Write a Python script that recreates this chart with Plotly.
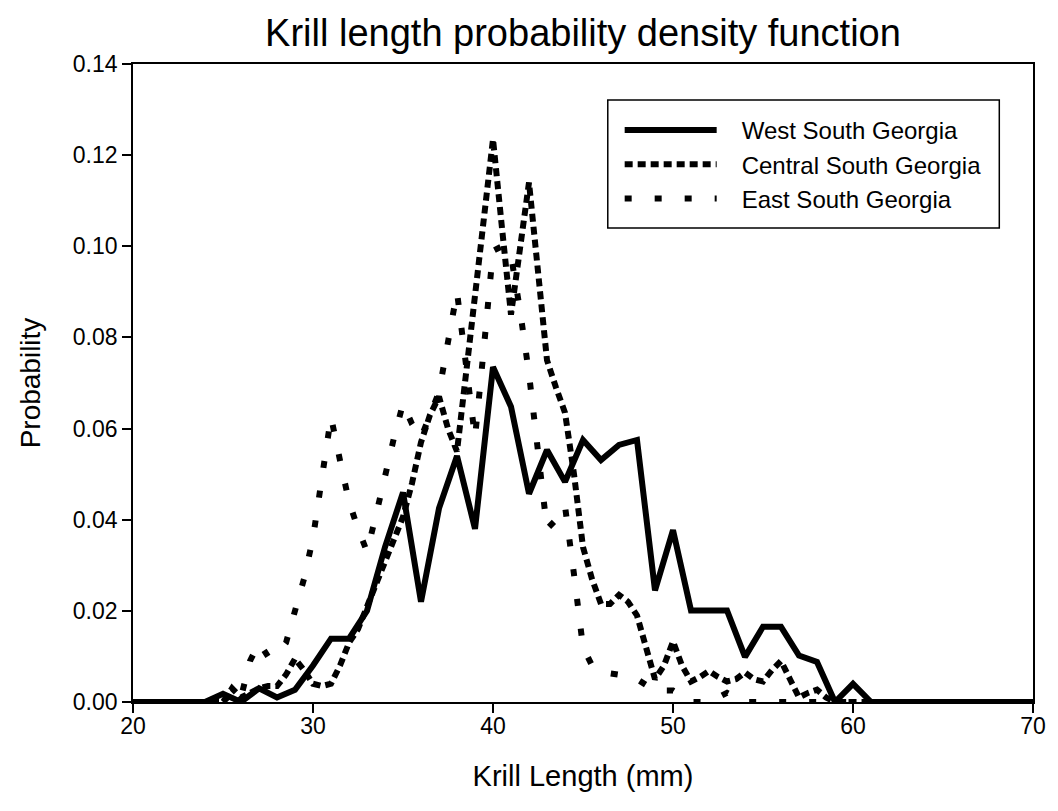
import plotly.graph_objects as go

# ---- data ----
west_x = [20, 21, 22, 23, 24, 25, 26, 27, 28, 29, 30, 31, 32, 33, 34, 35, 36, 37, 38, 39,
          40, 41, 42, 43, 44, 45, 46, 47, 48, 49, 50, 51, 52, 53, 54, 55, 56, 57, 58, 59,
          60, 61, 62, 63, 64, 65, 66, 67, 68, 69, 70]
west_y = [0, 0, 0, 0, 0, 0.0018, 0, 0.003, 0.001, 0.0027, 0.008, 0.0139, 0.0139, 0.020, 0.034,
          0.046, 0.022, 0.0425, 0.054, 0.038, 0.0735, 0.0648, 0.0457, 0.0553, 0.0483, 0.0575,
          0.0531, 0.0564, 0.0575, 0.0245, 0.0377, 0.0201, 0.0201, 0.0201, 0.0099, 0.0165,
          0.0165, 0.0102, 0.0088, 0, 0.004, 0, 0, 0, 0, 0, 0, 0, 0, 0, 0]

central_x = [20, 21, 22, 23, 24, 25, 25.5, 26, 26.5, 27, 27.5, 28, 28.5, 29, 29.5, 30, 30.5,
             31, 31.5, 32, 32.5, 33, 33.5, 34, 34.5, 35, 35.5, 36, 36.5, 37, 37.5, 38, 38.5,
             39, 39.5, 40, 40.5, 41, 41.5, 42, 42.5, 43, 43.5, 44, 44.5, 45, 45.5, 46, 46.5,
             47, 47.5, 48, 48.5, 49, 49.5, 50, 50.5, 51, 51.5, 52, 52.5, 53, 53.5, 54, 54.5,
             55, 55.5, 56, 56.5, 57, 57.5, 58, 58.5, 59, 60, 61, 62, 63, 64, 65, 66, 67, 68,
             69, 70]
central_y = [0, 0, 0, 0, 0, 0, 0.003, 0.001, 0.002, 0.003, 0.0035, 0.0035, 0.006, 0.0095,
             0.007, 0.004, 0.0035, 0.004, 0.008, 0.013, 0.016, 0.021, 0.026, 0.031, 0.0355,
             0.0406, 0.048, 0.057, 0.063, 0.067, 0.060, 0.055, 0.072, 0.089, 0.106, 0.1235,
             0.104, 0.085, 0.0995, 0.114, 0.0945, 0.075, 0.069, 0.0635, 0.050, 0.034, 0.027,
             0.0215, 0.0215, 0.0235, 0.022, 0.019, 0.012, 0.005, 0.008, 0.0133, 0.008, 0.0045,
             0.0055, 0.0068, 0.0055, 0.0045, 0.005, 0.0065, 0.005, 0.0045, 0.007, 0.009, 0.005,
             0.001, 0.002, 0.0027, 0.001, 0, 0, 0, 0, 0, 0, 0, 0, 0, 0, 0, 0]

east_x = [20, 21, 22, 23, 24, 25, 25.5, 26, 26.5, 27, 27.5, 28, 28.5, 29, 29.5, 30, 30.5,
          31, 31.5, 32, 32.5, 33, 33.5, 34, 34.5, 35, 35.5, 36, 36.5, 37, 37.5, 38, 38.5,
          39, 39.5, 40, 40.5, 41, 41.5, 42, 42.5, 43, 43.5, 44, 44.5, 45, 45.5, 46, 47, 48,
          49, 50, 51, 52, 53, 54, 55, 56, 57, 58, 59, 60, 61, 62, 63, 64, 65, 66, 67, 68,
          69, 70]
east_y = [0, 0, 0, 0, 0, 0, 0.002, 0.001, 0.009, 0.013, 0.010, 0.0105, 0.013, 0.020, 0.027,
          0.036, 0.049, 0.0626, 0.053, 0.044, 0.038, 0.033, 0.041, 0.050, 0.058, 0.0655,
          0.061, 0.058, 0.063, 0.068, 0.079, 0.090, 0.074, 0.058, 0.078, 0.099, 0.100, 0.098,
          0.086, 0.072, 0.055, 0.038, 0.040, 0.043, 0.028, 0.012, 0.008, 0.0066, 0.006,
          0.005, 0.0025, 0.0025, 0, 0, 0.002, 0, 0, 0, 0, 0, 0, 0, 0, 0, 0, 0, 0, 0, 0, 0,
          0, 0]

x_ticks = [20, 30, 40, 50, 60, 70]
y_ticks = [0.00, 0.02, 0.04, 0.06, 0.08, 0.10, 0.12, 0.14]

FONT = "Liberation Sans, Arial, sans-serif"
GAP = "\u00a0\u00a0\u00a0"

fig = go.Figure()
fig.add_trace(go.Scatter(x=west_x, y=west_y, mode="lines", name=GAP + "West South Georgia",
                         line=dict(color="black", width=6)))
fig.add_trace(go.Scatter(x=central_x, y=central_y, mode="lines",
                         name=GAP + "Central South Georgia",
                         line=dict(color="black", width=6, dash="8px,5px")))
fig.add_trace(go.Scatter(x=east_x, y=east_y, mode="lines", name=GAP + "East South Georgia",
                         line=dict(color="black", width=6, dash="7px,23px")))

W, H = 1058, 811
L, R, T, B = 133, 17, 64, 109
pw, ph = W - L - R, H - T - B


def px_x(p):
    return (p - L) / pw


def px_y(p):
    return (H - B - p) / ph


fig.update_layout(
    width=W, height=H,
    margin=dict(l=L, r=R, t=T, b=B),
    paper_bgcolor="white", plot_bgcolor="white",
    font=dict(family=FONT, color="black", size=22),
    title=dict(text="Krill length probability density function", x=0.5, xref="paper",
               y=1 - 33 / H, yref="container", yanchor="middle",
               font=dict(size=38, family=FONT, color="black")),
    showlegend=True,
    legend=dict(
        x=px_x(624), y=px_y(108), xanchor="left", yanchor="top",
        borderwidth=0, bgcolor="rgba(0,0,0,0)",
        font=dict(size=24, family=FONT, color="black"),
        itemwidth=92, traceorder="normal",
    ),
    shapes=[dict(type="rect", xref="paper", yref="paper",
                 x0=px_x(612), x1=px_x(1007), y0=px_y(228), y1=px_y(100),
                 line=dict(color="black", width=1.5), fillcolor="rgba(0,0,0,0)",
                 layer="above")],
)
fig.update_xaxes(range=[20, 70], tickvals=x_ticks, ticktext=[str(v) for v in x_ticks],
                 ticks="outside", ticklen=9, tickwidth=1.5, tickcolor="black",
                 showline=True, linecolor="black", linewidth=1.8, mirror=True,
                 showgrid=False, zeroline=False, ticklabelstandoff=-7,
                 tickfont=dict(size=23, family=FONT, color="black"),
                 title=dict(text="Krill Length (mm)", standoff=28,
                            font=dict(size=29, family=FONT, color="black")))
fig.update_yaxes(range=[0, 0.14], tickvals=y_ticks, ticktext=[f"{v:.2f}" for v in y_ticks],
                 ticks="outside", ticklen=9, tickwidth=1.5, tickcolor="black",
                 showline=True, linecolor="black", linewidth=1.8, mirror=True,
                 showgrid=False, zeroline=False,
                 tickfont=dict(size=23, family=FONT, color="black"),
                 title=dict(text="Probability", standoff=24,
                            font=dict(size=28, family=FONT, color="black")))

fig.write_html("out.html")
